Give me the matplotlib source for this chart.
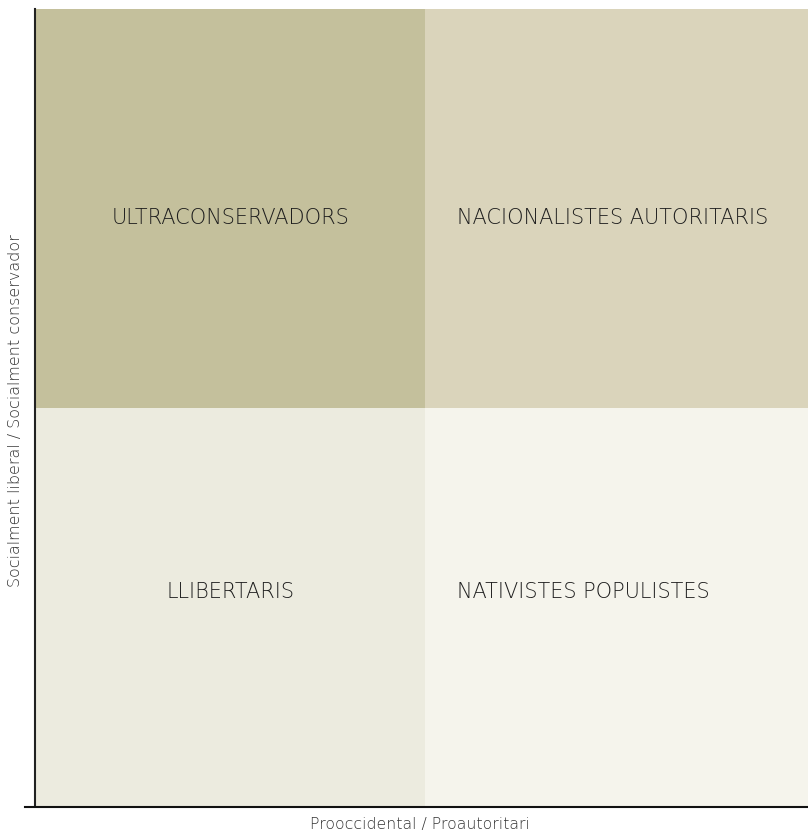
import matplotlib
matplotlib.use("Agg")
import matplotlib.pyplot as plt
import numpy as np

# quadrant grid (x: prooccidental -> proautoritari, y: liberal -> conservador)
x_edges = [0, 1, 2]
y_edges = [0, 1, 2]
quad_colors = [["#ecebdf", "#f5f4ec"],   # bottom row
               ["#c4c09c", "#dad4bb"]]   # top row
labels = ["ULTRACONSERVADORS", "NACIONALISTES AUTORITARIS",
          "LLIBERTARIS", "NATIVISTES POPULISTES"]
label_pos = [(0.5, 1.475), (1.08, 1.475), (0.5, 0.537), (1.08, 0.537)]
label_ha = ["center", "left", "center", "left"]
xlabel = "Prooccidental / Proautoritari"
ylabel = "Socialment liberal / Socialment conservador"

plt.rcParams['font.family'] = ['DejaVu Sans']

fig = plt.figure(figsize=(8.08, 8.34), dpi=100)
W, H = 808, 834
ax = fig.add_axes([35 / W, 1 - 806 / H, (808 - 35) / W, (806 - 9) / H])

for i in range(2):
    for j in range(2):
        ax.fill_between([x_edges[j], x_edges[j + 1]], y_edges[i], y_edges[i + 1],
                        color=quad_colors[i][j], lw=0)

for txt, (x, y), ha in zip(labels, label_pos, label_ha):
    ax.text(x, y, txt, ha=ha, va="center", fontsize=15, color="#1e1e1e",
            fontweight="light")

ax.set_xlim(0, 1.98)
ax.set_ylim(0, 2)
ax.set_xticks([])
ax.set_yticks([])
for s in ["top", "right"]:
    ax.spines[s].set_visible(False)
ax.spines["left"].set_color("#222222")
ax.spines["left"].set_linewidth(1.5)
ax.spines["bottom"].set_visible(False)
# bottom axis line runs a little past the left spine
fig.add_artist(plt.Line2D([25 / W, 1], [1 - 806.5 / H] * 2, color="#111111", lw=1.5))

fig.text(420 / W, 1 - 824 / H, xlabel, ha="center", va="center",
         fontsize=11.3, color="#333333", fontweight="light")
fig.text(16 / W, 1 - 411 / H, ylabel, ha="center", va="center", rotation=90,
         fontsize=11.5, color="#333333", fontweight="light")

fig.savefig("out.png", dpi=100)
